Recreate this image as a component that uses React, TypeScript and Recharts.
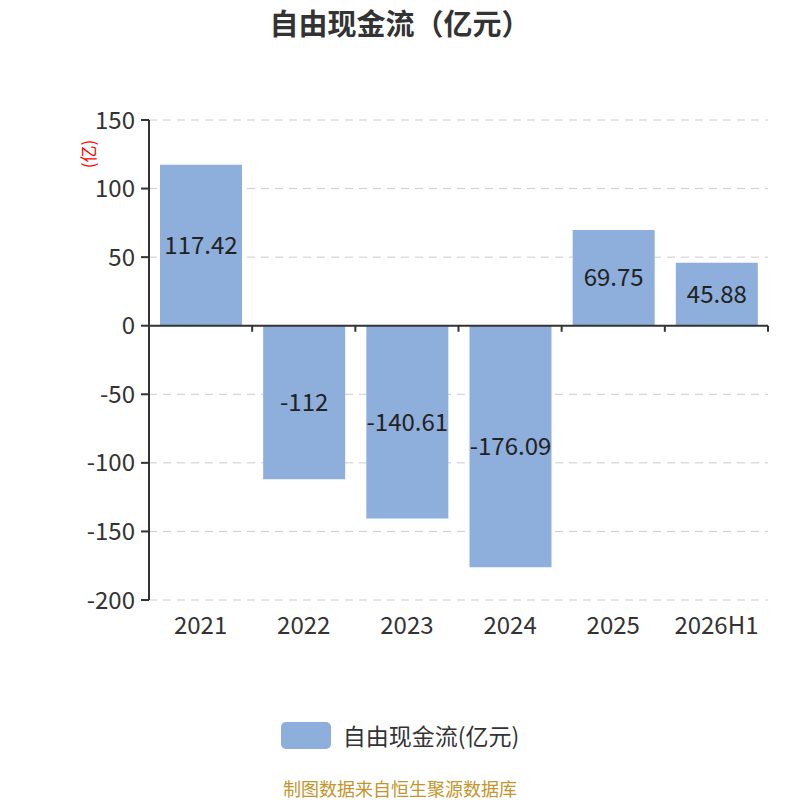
import React from 'react';
import { BarChart, Bar, XAxis, YAxis, CartesianGrid, ReferenceLine, LabelList, Legend } from 'recharts';

const categories = ['2021', '2022', '2023', '2024', '2025', '2026H1'];
const values = [117.42, -112, -140.61, -176.09, 69.75, 45.88];
const yTicks = [150, 100, 50, 0, -50, -100, -150, -200];
const seriesName = '自由现金流(亿元)';

const data = categories.map((c, i) => ({ x: i, name: c, value: values[i] }));
const boundaries = categories.map((_, i) => i + 0.5);
const xTicks = categories.map((_, i) => i);

const FONT = '"Noto Sans CJK SC", "Noto Sans", sans-serif';
const BAR_COLOR = '#8eaedb';
const TICK_LEN = 4.4;

const LegendContent = () => (
  <div style={{ display: 'flex', justifyContent: 'center', alignItems: 'center', height: 30, fontFamily: FONT }}>
    <div style={{ width: 50, height: 27, borderRadius: 5, background: BAR_COLOR, marginRight: 12 }} />
    <span style={{ fontSize: 23, color: '#333' }}>{seriesName}</span>
  </div>
);

const YLabel = (props: any) => {
  const vb = props.viewBox || { x: 0, y: 0 };
  const x = vb.x + 87;
  const y = vb.y + 34;
  return (
    <text x={x} y={y} fill="#ff0000" fontSize={17} fontFamily={FONT} textAnchor="middle" dominantBaseline="central" transform={`rotate(-90 ${x} ${y})`}>
      (亿)
    </text>
  );
};

export default function App() {
  return (
    <div style={{ position: 'absolute', left: 0, top: 0, width: 800, height: 800, background: '#fff', fontFamily: FONT, overflow: 'hidden' }}>
      <div style={{ position: 'absolute', top: 2, left: 0, width: 800, textAlign: 'center', fontSize: 29, fontWeight: 'bold', color: '#333', lineHeight: '40px' }}>
        自由现金流（亿元）
      </div>
      <BarChart width={800} height={800} data={data} margin={{ top: 120, right: 32, left: 0, bottom: 110 }}>
        <CartesianGrid vertical={false} stroke="#cccccc" strokeDasharray="8 6" />
        <XAxis
          dataKey="x"
          type="number"
          domain={[-0.5, 5.5]}
          ticks={xTicks}
          tickFormatter={(v: number) => categories[v] ?? ''}
          axisLine={false}
          tickLine={false}
          tickSize={0}
          tickMargin={17}
          height={60}
          interval={0}
          tick={{ fill: '#333', fontSize: 24, fontFamily: FONT }}
        />
        <YAxis
          domain={[-200, 150]}
          ticks={yTicks}
          interval={0}
          width={149}
          tickSize={8}
          tickMargin={6}
          axisLine={{ stroke: '#333', strokeWidth: 2 }}
          tickLine={{ stroke: '#333', strokeWidth: 2 }}
          tick={{ fill: '#333', fontSize: 24, fontFamily: FONT }}
          label={<YLabel />}
        />
        <Legend verticalAlign="bottom" content={<LegendContent />} wrapperStyle={{ top: 720, left: 0, width: 800 }} />
        <Bar dataKey="value" name={seriesName} fill={BAR_COLOR} barSize={82} isAnimationActive={false}>
          <LabelList dataKey="value" position="center" fill="#222" fontSize={24} fontFamily={FONT} />
        </Bar>
        <ReferenceLine y={0} stroke="#333" strokeWidth={2} />
        {boundaries.map((b) => (
          <ReferenceLine key={b} segment={[{ x: b, y: 0 }, { x: b, y: -TICK_LEN }]} stroke="#333" strokeWidth={2} />
        ))}
      </BarChart>
      <div style={{ position: 'absolute', top: 778, left: 0, width: 800, textAlign: 'center', fontSize: 18, color: '#c4952b', lineHeight: '20px' }}>
        制图数据来自恒生聚源数据库
      </div>
    </div>
  );
}
